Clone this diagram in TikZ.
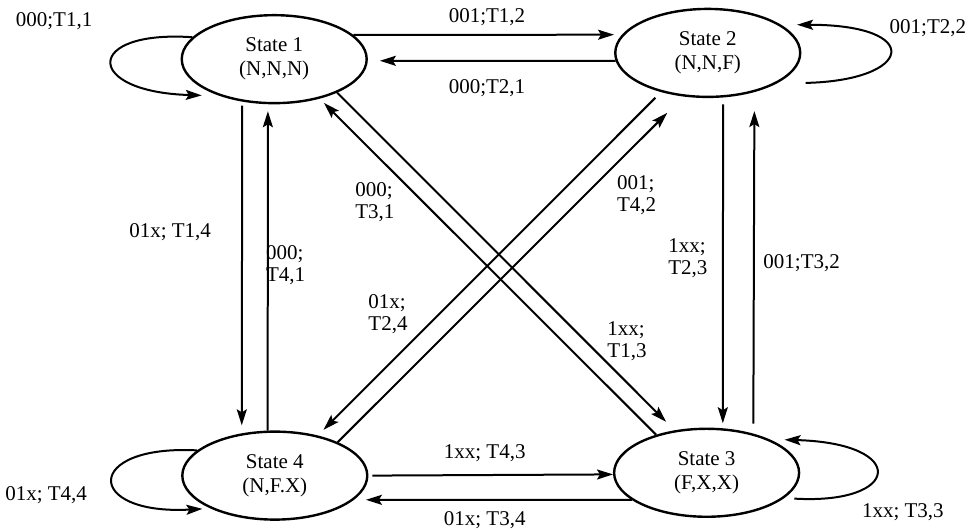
\documentclass[tikz,border=0pt]{standalone}
\usepackage{fontspec}
\setmainfont{Liberation Serif}
\usetikzlibrary{shapes.geometric,arrows.meta}
\tikzset{
	state/.style={draw=black, ellipse, line width=1.2pt, minimum width=92.5pt, minimum height=44pt, inner sep=0pt, align=center, font=\fontsize{10.5}{12}\selectfont},
	trans/.style={draw=black, line width=1pt, -{Stealth[length=8pt,width=5pt,inset=1.5pt]}},
	lbl/.style={align=left, inner sep=0pt, font=\fontsize{10.5}{11}\selectfont}
}

\begin{document}
\begin{tikzpicture}
	\useasboundingbox (0,0) rectangle (17.12,9.33);

	\node[state] (s1) at (4.82,8.29) {State 1\\(N,N,N)};
	\node[state] (s2) at (12.44,8.40) {State 2\\(N,N,F)};
	\node[state] (s3) at (12.42,1.02) {State 3\\(F,X,X)};
	\node[state] (s4) at (4.83,0.97) {State 4\\(N,F.X)};

	\draw[trans, shorten >=9pt] (s1.165) .. controls +(-54.5pt,3.7pt) and +(-68.1pt,2pt) .. (s1.214);
	\draw[trans, shorten <=14.5pt, shorten >=8pt] (s2.-24) .. controls +(68.6pt,1.5pt) and +(71.8pt,0pt) .. (s2.21);
	\draw[trans, shorten <=5pt, shorten >=7.5pt] (s3.-18) .. controls +(58.5pt,-3.5pt) and +(69.9pt,-2pt) .. (s3.28);
	\draw[trans, shorten >=4pt] (s4.162) .. controls +(-57pt,3pt) and +(-63.25pt,-3.5pt) .. (s4.207);

	\draw[trans, shorten >=4pt] (s1.17) -- (s2.168);
	\draw[trans, shorten >=6pt] (s2.185) -- (s1.-1);
	\draw[trans, shorten <=2pt] (s4.0) -- (s3.181);
	\draw[trans, shorten >=6pt] (s3.200) -- (s4.-17);

	\draw[trans, shorten <=2pt, shorten >=4pt] (s1.233) -- (s4.128);
	\draw[trans, shorten >=3.5pt] (s4.99) -- (s1.262);
	\draw[trans, shorten <=3.5pt, shorten >=2.5pt] (s2.-71) -- (s3.70);
	\draw[trans, shorten <=5pt, shorten >=9.5pt] (s3.40) -- (s2.-40);

	\draw[trans, shorten >=6pt] (s1.-28) -- (s3.127);
	\draw[trans, shorten >=3pt] (s3.143) -- (s1.-41);
	\draw[trans, shorten <=4pt, shorten >=4pt] (s2.220) -- (s4.43);
	\draw[trans, shorten >=11.5pt] (s4.28) -- (s2.241);

	\node[lbl] (t11) at (0.95,8.95) {000;T1,1};
	\node[lbl] (t22) at (16.31,8.84) {001;T2,2};
	\node[lbl] (t33) at (15.87,0.33) {1xx; T3,3};
	\node[lbl] (t44) at (0.81,0.63) {01x; T4,4};
	\node[lbl] (t12) at (8.56,9.03) {001;T1,2};
	\node[lbl] (t21) at (8.56,7.78) {000;T2,1};
	\node[lbl] (t43) at (8.52,1.37) {1xx; T4,3};
	\node[lbl] (t34) at (8.52,0.19) {01x; T3,4};
	\node[lbl] (t14) at (2.99,5.25) {01x; T1,4};
	\node[lbl, anchor=west] (t41) at (4.67,4.67) {000;\\T4,1};
	\node[lbl] (t23) at (12.09,4.80) {1xx;\\T2,3};
	\node[lbl] (t32) at (14.09,4.71) {001;T3,2};
	\node[lbl] (t31) at (6.59,5.78) {000;\\T3,1};
	\node[lbl] (t24) at (6.82,3.80) {01x;\\T2,4};
	\node[lbl] (t42) at (11.19,5.90) {001;\\T4,2};
	\node[lbl] (t13) at (11.02,3.34) {1xx;\\T1,3};
\end{tikzpicture}
\end{document}
